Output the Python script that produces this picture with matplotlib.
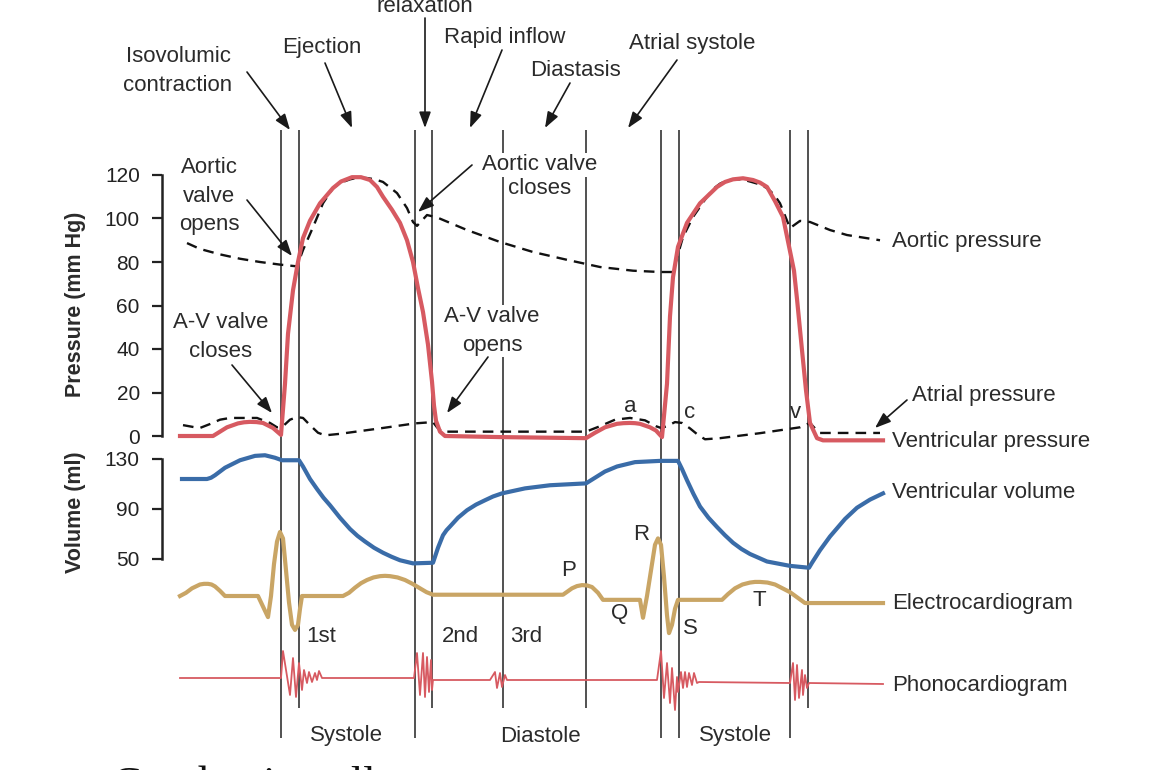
import matplotlib
matplotlib.use("Agg")
import matplotlib.pyplot as plt

W, H = 1150, 770

# ---- data (time in ms from start of trace) ----
vent_t = [0, 66, 80, 94, 116, 128, 140, 153, 166, 186, 202, 210, 216, 226, 236, 246, 260, 280, 306, 322,
          344, 362, 380, 394, 406, 424, 440, 454, 466, 476, 486, 496, 504, 508, 512, 520, 530, 640, 812, 830,
          850, 874, 887, 900, 910, 920, 940, 952, 964, 974, 980, 986, 996, 1014, 1040, 1074, 1090, 1106, 1126, 1146,
          1160, 1174, 1190, 1206, 1220, 1228, 1234, 1244, 1252, 1260, 1274, 1286, 1406]
vent_p = [0, 0, 2, 4, 5.8, 6.3, 6.5, 6.4, 6, 3.7, 0.5, 24, 47, 67, 80, 91, 99, 107, 114, 117,
          119, 119, 117.7, 114.5, 110, 104, 98, 90, 80, 68, 57, 42, 25, 14, 7, 2, 0, -0.5, -1, 1.5,
          4, 5.6, 5.9, 6, 5.9, 5.6, 4, 2.5, -0.5, 24, 55, 73, 87, 98, 107, 114.5, 116.8, 118, 118.5, 117.7,
          116.5, 114.5, 108, 100.7, 85, 76, 63, 39.5, 21, 6, -1, -2, -2]

aortic_t = [14, 40, 80, 120, 160, 200, 234, 246, 266, 286, 306, 322, 340, 356, 374, 390, 406, 434, 454, 466,
            474, 494, 514, 574, 640, 706, 774, 840, 906, 960, 986, 994, 1006, 1026, 1054, 1066, 1080, 1092, 1106,
            1124, 1140, 1158, 1174, 1188, 1200, 1220, 1240, 1260, 1300, 1334, 1400]
aortic_p = [88.7, 86, 83.5, 81.5, 80, 78.8, 78, 85.5, 96, 107, 114, 116.5, 118, 118.8, 118.6, 118, 116.8, 111.7,
            104.8, 98.4, 96.6, 101.6, 100.5, 94.7, 89.2, 84.6, 81, 77.7, 76, 75.4, 75.4, 82, 91.5, 100.7, 110,
            113.5, 116, 117.3, 118, 118, 117, 115.8, 114, 111, 107, 95.6, 98.9, 98.4, 94.7, 92.4, 90]

atrial_t = [6, 30, 40, 60, 80, 100, 154, 180, 194, 206, 220, 234, 246, 260, 276, 290, 320, 400, 470, 506,
            514, 524, 812, 840, 870, 900, 930, 952, 962, 974, 990, 1004, 1020, 1036, 1050, 1080, 1160, 1240,
            1260, 1270, 1280, 1400]
atrial_p = [5, 4, 3.7, 5.5, 7.5, 8.3, 8.3, 6, 4, 4.5, 7.5, 8.7, 8.3, 5, 1.5, 0.3, 1, 3.5, 5.8, 6.4,
            4, 2, 2, 4.5, 7.5, 8.3, 7.2, 4.5, 3.7, 4.5, 6.4, 6, 3.5, 0.5, -1.5, -1, 1.3, 4,
            6, 3.5, 1.4, 1.4]

vol_t = [4, 54, 62, 70, 90, 120, 150, 170, 190, 204, 238, 246, 253, 260, 274, 287, 300, 320, 340, 355,
         370, 388, 406, 423, 440, 466, 506, 516, 526, 533, 540, 556, 574, 592, 610, 626, 644, 690, 740, 812,
         830, 850, 874, 910, 960, 996, 1004, 1014, 1027, 1040, 1057, 1074, 1090, 1106, 1123, 1140, 1174, 1220, 1258,
         1264, 1280, 1300, 1330, 1354, 1380, 1406]
vol_ml = [114, 114, 115, 117, 123, 129, 132.5, 133, 131, 129, 129, 124, 119, 114, 106, 99, 93, 83, 74, 68.5,
          64, 59, 55, 51.8, 49, 46.5, 47, 59, 69, 73, 76, 83, 89, 93.5, 97, 100, 102.5, 106.5, 109, 110.5,
          115, 120, 124, 127.5, 128.5, 128.5, 122, 113, 102, 92, 83, 75.6, 69, 63, 58, 54, 48, 44.5, 43,
          47, 57, 68, 82, 91, 97.5, 102.5]

ecg_t = [0, 12, 24, 40, 48, 56, 63, 70, 80, 90, 156, 176, 182, 188, 194, 200, 206, 212, 218, 224,
         230, 236, 240, 244, 326, 338, 350, 362, 374, 387, 400, 410, 420, 435, 450, 465, 480, 493, 506, 766,
         784, 794, 804, 814, 824, 836, 846, 920, 926, 934, 944, 950, 956, 962, 968, 974, 978, 984, 990, 996,
         1084, 1096, 1110, 1125, 1140, 1150, 1160, 1175, 1190, 1205, 1220, 1250, 1406]
ecg_mv = [0, 0.05, 0.12, 0.18, 0.19, 0.19, 0.18, 0.15, 0.08, 0, 0, -0.33, 0, 0.5, 0.85, 1.0, 0.9, 0.4, -0.1, -0.45,
          -0.53, -0.45, -0.2, 0, 0, 0.05, 0.13, 0.2, 0.25, 0.29, 0.31, 0.315, 0.31, 0.29, 0.25, 0.19, 0.12, 0.06, 0.02, 0.02,
          0.12, 0.155, 0.17, 0.165, 0.14, 0.05, -0.06, -0.06, -0.34, 0, 0.5, 0.8, 0.9, 0.8, 0.3, -0.3, -0.58, -0.45, -0.2, -0.06,
          -0.06, 0.03, 0.12, 0.18, 0.21, 0.22, 0.22, 0.21, 0.18, 0.12, 0.06, -0.11, -0.11]

phono_t = [0, 202, 206, 220, 226, 232, 238, 244, 248, 254, 258, 264, 270, 274, 278, 284, 468, 474, 480, 486,
           490, 494, 498, 502, 504, 506, 620, 630, 634, 640, 644, 650, 654, 954, 962, 968, 974, 980, 984, 990,
           994, 996, 1002, 1006, 1010, 1014, 1018, 1024, 1028, 1034, 1038, 1220, 1226, 1230, 1234, 1238, 1244, 1246,
           1250, 1254, 1258, 1406]
phono_amp = [0, 0, 27, -17, 20, -19, 15, -12, 8, -5, 6, -4, 5, -2, 7, 0, 0, 25, -17, 25,
             -19, 21, -14, 18, -12, -2, -2, 6, -10, 5, -9, 3, -2, -2, 27, -20, 15, -25, 10, -32,
             1, -14, 6, -10, 6, -9, 5, -7, 5, -5, -4, -5, 15, -22, 13, -20, 8, -17,
             3, -10, -5, -6]

# valve events / phase boundaries (ms) and whether the marker runs to the bottom
event_t = [202, 238, 470, 504, 646, 812, 962, 998, 1220, 1256]
event_long = [True, False, True, False, False, False, True, True, True, False]

pressure_ticks = [0, 20, 40, 60, 80, 100, 120]
volume_ticks = [50, 90, 130]

RED = "#d75a61"
BLUE = "#3a6ca8"
TAN = "#c9a565"
INK = "#2b2b2b"

plt.rcParams["font.family"] = ["Liberation Sans", "DejaVu Sans"]
plt.rcParams["font.size"] = 16

fig = plt.figure(figsize=(W / 100, H / 100), dpi=100)

T0, T1 = -360, 1940  # time at left / right figure edge


def px_axes(y_top, y_bot, x_left=162):
    # axes placed by pixel box; x always maps to the shared time range
    ax = fig.add_axes([x_left / W, 1 - y_bot / H, (W - x_left) / W, (y_bot - y_top) / H])
    ax.set_xlim(2 * x_left - 360, T1)
    ax.patch.set_visible(False)
    return ax


# event lines
ax_ev = fig.add_axes([0, 0, 1, 1])
ax_ev.set_xlim(T0, T1)
ax_ev.set_ylim(H, 0)
ax_ev.axis("off")
for t, lng in zip(event_t, event_long):
    ax_ev.vlines(t, 130, 738 if lng else 708, color="#222222", lw=1.1)

# annotation layer (pixel coords)
ax_tx = fig.add_axes([0, 0, 1, 1])
ax_tx.set_xlim(0, W)
ax_tx.set_ylim(H, 0)
ax_tx.axis("off")


def label(s, x, y, ha="center", va="center", box=False, **kw):
    kw.setdefault("fontsize", 16)
    bb = dict(boxstyle="square,pad=0.05", fc="white", ec="none") if box else None
    ax_tx.text(x, y, s, ha=ha, va=va, color=INK, linespacing=1.45, bbox=bb, **kw)


def arrow(x0, y0, x1, y1):
    ax_tx.annotate("", xy=(x1, y1), xytext=(x0, y0),
                   arrowprops=dict(arrowstyle="-|>,head_length=0.6,head_width=0.22", color="#1a1a1a",
                                   lw=1.2, shrinkA=0, shrinkB=0, mutation_scale=16))


label("Isovolumic\ncontraction", 178, 71)
label("Ejection", 322, 48)
label("Isovolumic", 425, -17, va="baseline")
label("relaxation", 425, 12, va="baseline")
label("Rapid inflow", 505, 37)
label("Diastasis", 575, 70)
label("Atrial systole", 692, 44)
label("Aortic\nvalve\nopens", 209, 196)
label("Aortic valve", 540, 165, box=True)
label("closes", 540, 188)
label("A-V valve\ncloses", 221, 337)
label("A-V valve\nopens", 492, 331, box=True)

arrow(247, 72, 290, 130)
arrow(325, 63, 352, 128)
arrow(425, 18, 425, 128)
arrow(502, 50, 470, 128)
arrow(570, 83, 545, 128)
arrow(677, 60, 628, 128)
arrow(247, 200, 292, 256)
arrow(472, 165, 418, 212)
arrow(232, 365, 272, 413)
arrow(488, 357, 447, 413)
arrow(907, 400, 875, 428)

label("Aortic pressure", 892, 241, ha="left")
label("Atrial pressure", 912, 396, ha="left")
label("Ventricular pressure", 892, 442, ha="left")
label("Ventricular volume", 892, 493, ha="left")
label("Electrocardiogram", 892, 603, ha="left")
label("Phonocardiogram", 892, 685, ha="left")

for s, x, y in [("a", 630, 407), ("c", 690, 412), ("v", 795, 412),
                ("P", 569, 571), ("Q", 620, 613), ("R", 641, 535), ("S", 690, 629), ("T", 759, 600),
                ("1st", 321, 636), ("2nd", 460, 636), ("3rd", 526, 636),
                ("Systole", 346, 736), ("Diastole", 540, 736), ("Systole", 735, 736)]:
    label(s, x, y)

label("Pressure (mm Hg)", 75, 304, rotation=90, fontweight="bold", fontsize=15.5)
label("Volume (ml)", 75, 512, rotation=90, fontweight="bold", fontsize=15.5)

ax_tx.text(112, 797, "Conduction all", ha="left", va="baseline", fontsize=32,
           family=["Liberation Serif", "DejaVu Serif"], color="#111111")

# ---- pressure panel ----
ax_p = px_axes(131.5, 457.75)
ax_p.set_ylim(-10, 140)
ax_p.plot(aortic_t, aortic_p, color="#111111", lw=1.7, ls=(0, (4.5, 3)), clip_on=False)
ax_p.plot(atrial_t, atrial_p, color="#111111", lw=1.7, ls=(0, (4.5, 3)), clip_on=False)
ax_p.plot(vent_t, vent_p, color=RED, lw=3.0, solid_joinstyle="round", clip_on=False)

# ---- volume panel ----
ax_v = px_axes(446.5, 584)
ax_v.set_ylim(30, 140)
ax_v.plot(vol_t, vol_ml, color=BLUE, lw=3.0, solid_joinstyle="round", clip_on=False)

for ax, ticks in [(ax_p, pressure_ticks), (ax_v, volume_ticks)]:
    for s in ["top", "right", "bottom"]:
        ax.spines[s].set_visible(False)
    ax.spines["left"].set_bounds(ticks[0], ticks[-1])
    ax.spines["left"].set_linewidth(1.8)
    ax.spines["left"].set_color("#222222")
    ax.set_xticks([])
    ax.set_yticks(ticks)
    ax.tick_params(axis="y", length=7, width=1.6, pad=9, labelsize=15, colors="#222222")

# ---- ECG ----
ax_e = px_axes(519.2, 660)
ax_e.set_ylim(-1, 1.2)
ax_e.plot(ecg_t, ecg_mv, color=TAN, lw=3.0, solid_joinstyle="round", clip_on=False)
ax_e.axis("off")

# ---- phonocardiogram ----
ax_s = px_axes(638, 718)
ax_s.set_ylim(-40, 40)
ax_s.plot(phono_t, phono_amp, color=RED, lw=1.3, clip_on=False)
ax_s.axis("off")

fig.savefig("out.png", dpi=100, facecolor="white")
